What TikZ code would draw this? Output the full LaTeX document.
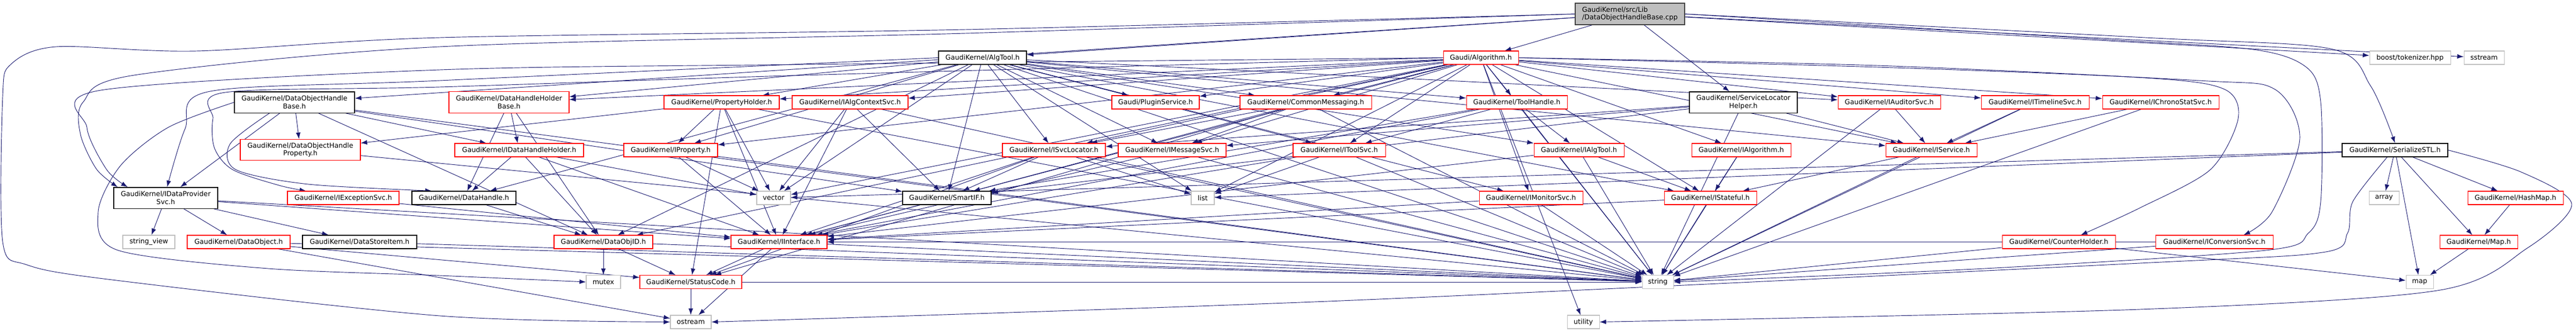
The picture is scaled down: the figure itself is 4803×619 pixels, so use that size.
\documentclass[tikz,border=0pt]{standalone}
\usepackage{fontspec}
\setmainfont{DejaVu Sans}
\usetikzlibrary{arrows.meta,backgrounds}

\definecolor{depblue}{RGB}{25,25,112}
\definecolor{sysgrey}{RGB}{191,191,191}

\begin{document}
\begin{tikzpicture}[x=0.75pt, y=-0.75pt,
  >={Latex[length=9pt,width=6.5pt]},
  hdr/.style={draw, fill=white, minimum height=18.75pt, inner sep=1pt, font=\fontsize{9.5}{11}\selectfont},
  redhdr/.style={hdr, draw=red, line width=0.8pt},
  blkhdr/.style={hdr, draw=black, line width=1pt},
  syshdr/.style={hdr, draw=sysgrey, line width=0.8pt},
  twoline/.style={align=center, minimum height=29.5pt},
  dep/.style={->, color=depblue, line width=0.7pt}]
  \useasboundingbox (0,0) rectangle (4803,619);

  % the file itself
  \node[hdr, fill=sysgrey, draw=black!75, line width=1pt, align=left, minimum width=153pt, minimum height=30pt] (src) at (3039,26) {GaudiKernel/src/Lib\\/DataObjectHandleBase.cpp};

  % first level
  \node[blkhdr, minimum width=123pt] (algtool) at (1832,107.5) {GaudiKernel/AlgTool.h};
  \node[redhdr, minimum width=105pt] (alg) at (2761,107.5) {Gaudi/Algorithm.h};
  \node[syshdr, minimum width=113.25pt] (boost) at (4493.5,107.5) {boost/tokenizer.hpp};
  \node[syshdr, minimum width=56.25pt] (sstream) at (4631.5,107.5) {sstream};

  \node[blkhdr, twoline, minimum width=168pt] (dohb) at (549,190.5) {GaudiKernel/DataObjectHandle\\Base.h};
  \node[redhdr, twoline, minimum width=168pt] (dhhb) at (949,190.5) {GaudiKernel/DataHandleHolder\\Base.h};
  \node[redhdr, minimum width=161.25pt] (propholder) at (1345.5,190.5) {GaudiKernel/PropertyHolder.h};
  \node[redhdr, minimum width=162pt] (ialgctx) at (1585,190.5) {GaudiKernel/IAlgContextSvc.h};
  \node[redhdr, minimum width=122.25pt] (plugin) at (2154.5,190.5) {Gaudi/PluginService.h};
  \node[redhdr, minimum width=183.75pt] (commonmsg) at (2434.5,190.5) {GaudiKernel/CommonMessaging.h};
  \node[redhdr, minimum width=141pt] (toolhandle) at (2828,190.5) {GaudiKernel/ToolHandle.h};
  \node[blkhdr, twoline, minimum width=150.75pt] (slh) at (3250.5,190.5) {GaudiKernel/ServiceLocator\\Helper.h};
  \node[redhdr, minimum width=143.25pt] (iauditor) at (3522.5,190.5) {GaudiKernel/IAuditorSvc.h};
  \node[redhdr, minimum width=150.75pt] (itimeline) at (3794.5,190.5) {GaudiKernel/ITimelineSvc.h};
  \node[redhdr, minimum width=162.75pt] (ichrono) at (4028.5,190.5) {GaudiKernel/IChronoStatSvc.h};

  \node[redhdr, twoline, minimum width=168pt] (dohp) at (560,279) {GaudiKernel/DataObjectHandle\\Property.h};
  \node[redhdr, minimum width=180pt] (idhh) at (968,279.5) {GaudiKernel/IDataHandleHolder.h};
  \node[redhdr, minimum width=131.25pt] (iproperty) at (1250.5,279.5) {GaudiKernel/IProperty.h};
  \node[redhdr, minimum width=144pt] (isvcloc) at (1965,279.5) {GaudiKernel/ISvcLocator.h};
  \node[redhdr, minimum width=150.75pt] (imsgsvc) at (2185.5,279.5) {GaudiKernel/IMessageSvc.h};
  \node[redhdr, minimum width=129pt] (itoolsvc) at (2497,279.5) {GaudiKernel/IToolSvc.h};
  \node[redhdr, minimum width=126pt] (ialgtool) at (2944,279.5) {GaudiKernel/IAlgTool.h};
  \node[redhdr, minimum width=138.75pt] (ialgorithm) at (3246.5,279.5) {GaudiKernel/IAlgorithm.h};
  \node[redhdr, minimum width=127.5pt] (iservice) at (3601,279.5) {GaudiKernel/IService.h};
  \node[blkhdr, minimum width=147.75pt] (stl) at (4465.5,279.5) {GaudiKernel/SerializeSTL.h};

  \node[blkhdr, twoline, minimum width=145.5pt] (idps) at (309,368.5) {GaudiKernel/IDataProvider\\Svc.h};
  \node[redhdr, minimum width=156pt] (iexcept) at (640,368.5) {GaudiKernel/IExceptionSvc.h};
  \node[blkhdr, minimum width=145.5pt] (datahandle) at (865,368.5) {GaudiKernel/DataHandle.h};
  \node[syshdr, minimum width=47.25pt] (vector) at (1442.5,368.5) {vector};
  \node[blkhdr, minimum width=123.75pt] (smartif) at (1765.5,368.5) {GaudiKernel/SmartIF.h};
  \node[syshdr, minimum width=32.25pt] (list) at (2242.5,368.5) {list};
  \node[redhdr, minimum width=144.75pt] (imonitor) at (2854.5,368.5) {GaudiKernel/IMonitorSvc.h};
  \node[redhdr, minimum width=129pt] (istateful) at (3189,368.5) {GaudiKernel/IStateful.h};
  \node[syshdr, minimum width=42pt] (array) at (4445,368.5) {array};
  \node[redhdr, minimum width=133.5pt] (hashmap) at (4690,368.5) {GaudiKernel/HashMap.h};

  \node[syshdr, minimum width=72.75pt] (strview) at (277.5,450.5) {string\_view};
  \node[redhdr, minimum width=144pt] (dataobject) at (445,450.5) {GaudiKernel/DataObject.h};
  \node[blkhdr, minimum width=159.75pt] (datastore) at (670.5,450.5) {GaudiKernel/DataStoreItem.h};
  \node[redhdr, minimum width=138pt] (dataobjid) at (1125,450.5) {GaudiKernel/DataObjID.h};
  \node[redhdr, minimum width=134.25pt] (iinterface) at (1452.5,450.5) {GaudiKernel/IInterface.h};
  \node[redhdr, minimum width=158.25pt] (counterholder) at (3838.5,450.5) {GaudiKernel/CounterHolder.h};
  \node[redhdr, minimum width=164.25pt] (iconversion) at (4128.5,450.5) {GaudiKernel/IConversionSvc.h};
  \node[redhdr, minimum width=108.75pt] (gkmap) at (4621.5,450.5) {GaudiKernel/Map.h};

  \node[syshdr, minimum width=48pt] (mutex) at (1125,525) {mutex};
  \node[redhdr, minimum width=142.5pt] (statuscode) at (1288,525) {GaudiKernel/StatusCode.h};
  \node[syshdr, minimum width=43.5pt] (string) at (3091,525) {string};
  \node[syshdr, minimum width=38.25pt] (map) at (4511.5,525) {map};
  \node[syshdr, minimum width=57pt] (ostream) at (1288,599.5) {ostream};
  \node[syshdr, minimum width=45pt] (utility) at (2952,599.5) {utility};

  \begin{scope}[on background layer]
  % includes of the .cpp
  \path[dep] (src) edge (alg) edge (algtool) edge (dohb) edge (slh) edge (boost) edge (sstream);
  \draw[dep] plot[smooth] coordinates {(src.east) (4000,70) (4346,91) (4420,160) (stl.north)};
  \draw[dep] plot[smooth] coordinates {(src.west) (1800,62) (820,87) (250,140) (155,190) (150,250) (180,315) ([xshift=6pt]idps.north west)};
  \draw[dep] plot[smooth] coordinates {(src.west) (1800,55) (820,70) (366,95) (105,87) (20,120) (5,180) (5,450) (50,493) (209,521) (820,588) (ostream.west)};
  \draw[dep] plot[smooth] coordinates {(src.east) (3900,72) (4200,92) (4300,125) (4327,190) (4327,375) (4304,434) (4225,466) (3700,500) (string.east)};

  % Gaudi/Algorithm.h
  \path[dep] (alg) edge (dhhb) edge (propholder) edge (ialgctx) edge (plugin) edge (commonmsg)
    edge (toolhandle) edge (isvcloc) edge (imsgsvc) edge (itoolsvc) edge (ialgorithm) edge (iservice)
    edge (iauditor) edge (itimeline) edge (ichrono) edge (iproperty) edge (imonitor) edge (istateful)
    edge (dataobjid) edge (vector) edge (list) edge (string) edge (utility) edge (iinterface);
  \draw[dep] plot[smooth] coordinates {(alg.west) (1500,120) (820,130) (188,168) (162,237) (199,316) ([xshift=20pt]idps.north west)};
  \draw[dep] plot[smooth] coordinates {(alg.west) (1500,140) (820,162) (420,172) (397,221) (400,276) (434,316) (520,345) ([xshift=-52pt]iexcept.north)};
  \draw[dep] plot[smooth] coordinates {(alg.east) (3500,125) (4000,145) (4147,166) (4173,221) (4121,316) (3990,387) ([xshift=31pt]counterholder.north)};
  \draw[dep] plot[smooth] coordinates {(alg.east) (3500,122) (4100,150) (4241,166) (4288,257) (4236,395) ([xshift=41pt]iconversion.north)};

  % GaudiKernel/AlgTool.h
  \path[dep] (algtool) edge (dhhb) edge (propholder) edge (plugin) edge (commonmsg) edge (toolhandle)
    edge (isvcloc) edge (imsgsvc) edge (itoolsvc) edge (ialgtool) edge (iauditor) edge (iservice)
    edge (imonitor) edge (iproperty) edge (datahandle) edge (dataobjid) edge (vector) edge (list)
    edge (string) edge (smartif) edge (istateful);
  \draw[dep] plot[smooth] coordinates {(algtool.west) (820,150) (392,170) (345,240) ([xshift=2pt]idps.north)};

  % second level
  \path[dep] (dohb) edge (dohp) edge (idps) edge (idhh) edge (smartif) edge (dataobjid) edge (string);
  \draw[dep] plot[smooth] coordinates {([xshift=-35pt]dohb.south) (429,268) (440,316) (575,343) ([xshift=-45pt]datahandle.north)};
  \draw[dep] plot[smooth] coordinates {(dohb.west) (314,237) (225,308) (183,395) (220,466) (500,500) (820,513) (mutex.west)};
  \path[dep] (dhhb) edge (idhh) edge (datahandle) edge (dataobjid);
  \path[dep] (propholder) edge (dohp) edge (iproperty) edge (vector) edge (iinterface) edge (string) edge (statuscode);
  \path[dep] (ialgctx) edge (smartif) edge (iinterface) edge (vector) edge (string);
  \path[dep] (commonmsg) edge (imsgsvc) edge (isvcloc) edge (smartif) edge (statuscode) edge (string);
  \path[dep] (toolhandle) edge (ialgtool) edge (itoolsvc) edge (smartif) edge (iinterface) edge (string);
  \path[dep] (slh) edge (isvcloc) edge (imsgsvc) edge (iservice) edge (smartif) edge (string);
  \path[dep] (iauditor) edge (iservice) edge (string);
  \path[dep] (itimeline) edge (iservice) edge (string);
  \path[dep] (ichrono) edge (iservice) edge (string);

  % third level
  \path[dep] (dohp) edge (string);
  \path[dep] (idhh) edge (datahandle) edge (dataobjid) edge (iinterface) edge (vector);
  \path[dep] (iproperty) edge (iinterface) edge (vector) edge (string);
  \path[dep] (isvcloc) edge (smartif) edge (iinterface) edge (list) edge (string) edge (statuscode);
  \path[dep] (imsgsvc) edge (iinterface) edge (string);
  \path[dep] (itoolsvc) edge (iinterface) edge (list) edge (string);
  \path[dep] (ialgtool) edge (istateful) edge (string) edge (iinterface);
  \path[dep] (ialgorithm) edge (istateful) edge (string);
  \path[dep] (iservice) edge (istateful) edge (string);
  \path[dep] (stl) edge (array) edge (map) edge (hashmap) edge (gkmap) edge (list) edge (vector);
  \draw[dep] plot[smooth] coordinates {(stl.east) (4700,320) (4795,380) (4712,462) (4544,541) (3990,576) (utility.east)};
  \draw[dep] plot[smooth] coordinates {([xshift=-11pt]stl.south) (4387,375) (4377,434) (4330,470) (3990,490) (2500,560) (ostream.east)};

  % lower levels
  \path[dep] (idps) edge (strview) edge (dataobject) edge (datastore) edge (iinterface) edge (string);
  \path[dep] (iexcept) edge (iinterface);
  \path[dep] (datahandle) edge (dataobjid);
  \path[dep] (smartif) edge (iinterface);
  \path[dep] (imonitor) edge (iinterface) edge (string);
  \path[dep] (istateful) edge (iinterface) edge (string);
  \path[dep] (hashmap) edge (gkmap);
  \path[dep] (gkmap) edge (map);
  \path[dep] (dataobject) edge (statuscode) edge (string) edge (ostream);
  \path[dep] (datastore) edge (string);
  \path[dep] (dataobjid) edge (mutex) edge (statuscode) edge (string);
  \path[dep] (iinterface) edge (statuscode) edge (ostream) edge (string);
  \path[dep] (statuscode) edge (ostream) edge (string);
  \path[dep] (counterholder) edge (map) edge (string);
  \path[dep] (iconversion) edge (iinterface) edge (string);
  \end{scope}
\end{tikzpicture}
\end{document}
